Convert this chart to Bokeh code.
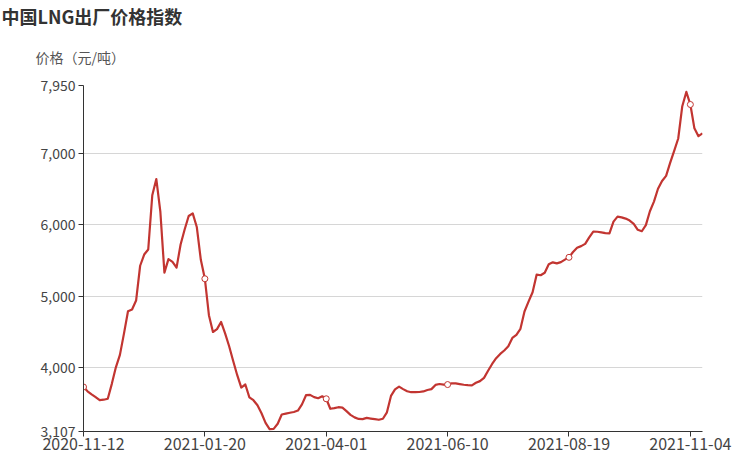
from bokeh.plotting import figure
from bokeh.models import Range1d, FixedTicker, NumeralTickFormatter, Title, ColumnDataSource
from bokeh.embed import file_html
from bokeh.resources import INLINE

# ---------------- data ----------------
title_text = "中国LNG出厂价格指数"
y_axis_name = "价格（元/吨）"
x_tick_labels = ["2020-11-12", "2021-01-20", "2021-04-01", "2021-06-10", "2021-08-19", "2021-11-04"]
label_every = 30  # categories between two labelled dates
y_ticks = [3107, 4000, 5000, 6000, 7000, 7950]
y_min = 3107
y_max = 7950

prices = [
    3730, 3670, 3628, 3588, 3545, 3552, 3565, 3774, 4005, 4180,
    4477, 4790, 4815, 4940, 5427, 5584, 5655, 6414, 6640, 6180,
    5330, 5520, 5480, 5400, 5724, 5935, 6123, 6160, 5970, 5510,
    5245, 4735, 4500, 4540, 4640, 4480, 4300, 4094, 3895, 3722,
    3765, 3585, 3545, 3474, 3362, 3228, 3140, 3144, 3215, 3345,
    3357, 3369, 3380, 3400, 3486, 3615, 3620, 3588, 3573, 3600,
    3565, 3425, 3434, 3447, 3440, 3392, 3340, 3305, 3283, 3280,
    3297, 3288, 3280, 3271, 3285, 3375, 3605, 3696, 3735, 3700,
    3670, 3657, 3657, 3660, 3668, 3688, 3700, 3759, 3772, 3764,
    3764, 3780, 3780, 3770, 3761, 3755, 3753, 3789, 3812, 3858,
    3957, 4052, 4133, 4193, 4241, 4300, 4417, 4460, 4544, 4787,
    4924, 5056, 5302, 5294, 5329, 5448, 5475, 5460, 5478, 5513,
    5545, 5620, 5680, 5702, 5733, 5825, 5905, 5903, 5894, 5883,
    5880, 6045, 6114, 6104, 6087, 6060, 6014, 5930, 5910, 5995,
    6190, 6325, 6505, 6614, 6685, 6866, 7036, 7208, 7660, 7860,
    7684, 7350, 7240, 7280,
]

# ---------------- derived ----------------
xs = list(range(len(prices)))
tick_idx = [k * label_every for k in range(len(x_tick_labels))]
src = ColumnDataSource(dict(x=xs, y=prices))
mk = ColumnDataSource(dict(x=tick_idx, y=[prices[i] for i in tick_idx]))

LINE = "#c23531"
FONT = "Noto Sans CJK SC"

p = figure(width=736, height=456, output_backend="svg", toolbar_location=None,
           x_range=Range1d(0, len(prices) - 1), y_range=Range1d(y_min, y_max),
           min_border_left=83, min_border_right=34, min_border_top=85, min_border_bottom=25,
           background_fill_color="white", border_fill_color="white")
p.outline_line_color = None

# main title (outermost) and axis name (closest to the frame)
p.title.text = title_text
p.title.align = "left"
p.title.offset = -82
p.title.text_font = FONT
p.title.text_font_size = "18px"
p.title.text_font_style = "bold"
p.title.text_color = "#333333"
try:
    p.title.standoff = -4
    inner_standoff = 37
except Exception:
    p.title.standoff = 0
    inner_standoff = 33
p.add_layout(Title(text=y_axis_name, align="left", offset=-48, standoff=inner_standoff,
                   text_font=FONT, text_font_size="14px", text_font_style="normal",
                   text_color="#555555"), "above")

# axes
p.xaxis.ticker = FixedTicker(ticks=tick_idx)
p.xaxis.major_label_overrides = {i: s for i, s in zip(tick_idx, x_tick_labels)}
p.yaxis.ticker = FixedTicker(ticks=y_ticks)
p.yaxis.formatter = NumeralTickFormatter(format="0,0")
for ax in (p.xaxis, p.yaxis):
    ax.axis_line_color = "#333333"
    ax.axis_line_width = 1
    ax.major_tick_line_color = "#333333"
    ax.major_tick_out = 5
    ax.major_tick_in = 0
    ax.minor_tick_line_color = None
    ax.major_label_text_font = FONT
    ax.major_label_text_color = "#444444"
p.xaxis.major_label_text_font_size = "16px"
p.xaxis.major_label_standoff = 1
p.yaxis.major_label_text_font_size = "14px"
p.yaxis.major_label_standoff = 3

p.xgrid.visible = False
p.ygrid.grid_line_color = "#d6d6d6"
p.ygrid.grid_line_width = 1

# line + markers
p.line("x", "y", source=src, line_color=LINE, line_width=2.2, line_join="round")
p.scatter("x", "y", source=mk, size=6, fill_color="white", line_color=LINE, line_width=1)

open("out.html", "w").write(file_html(p, INLINE))
